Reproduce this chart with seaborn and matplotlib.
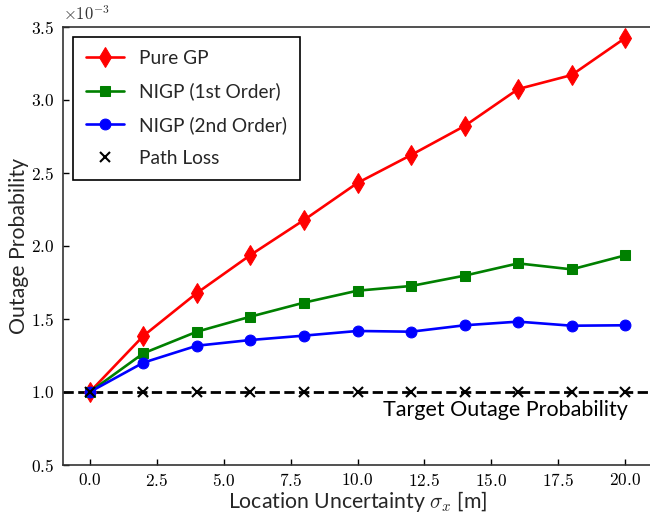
import numpy as np
import pandas as pd
import matplotlib
matplotlib.use("Agg")
import matplotlib.pyplot as plt
import matplotlib.ticker as mticker
import seaborn as sns

# ---- data (outage probability) ----
sigma_x = [0, 2, 4, 6, 8, 10, 12, 14, 16, 18, 20]
pure_gp = [1.000e-3, 1.384e-3, 1.678e-3, 1.938e-3, 2.178e-3, 2.432e-3,
           2.623e-3, 2.822e-3, 3.075e-3, 3.171e-3, 3.425e-3]
nigp_1st = [1.000e-3, 1.265e-3, 1.413e-3, 1.516e-3, 1.612e-3, 1.694e-3,
            1.726e-3, 1.797e-3, 1.881e-3, 1.840e-3, 1.936e-3]
nigp_2nd = [1.000e-3, 1.201e-3, 1.317e-3, 1.356e-3, 1.386e-3, 1.418e-3,
            1.413e-3, 1.457e-3, 1.482e-3, 1.454e-3, 1.457e-3]
path_loss = [1.0e-3, 1.0e-3, 1.0e-3, 1.0e-3, 1.0e-3, 1.0e-3,
             1.0e-3, 1.0e-3, 1.0e-3, 1.0e-3, 1.0e-3]
target_outage = 1.0e-3
y_ticks = [0.5e-3, 1.0e-3, 1.5e-3, 2.0e-3, 2.5e-3, 3.0e-3, 3.5e-3]
x_ticks = [0.0, 2.5, 5.0, 7.5, 10.0, 12.5, 15.0, 17.5, 20.0]

sns.set_theme(style="white")
SANS = ["Lato", "DejaVu Sans"]
plt.rcParams["font.family"] = SANS
plt.rcParams["mathtext.fontset"] = "cm"

fig = plt.figure(figsize=(6.5, 5.19), dpi=100)
ax = fig.add_axes([63 / 650, 54 / 519, 589 / 650, 438 / 519])

lw = 1.9
sns.lineplot(x=sigma_x, y=pure_gp, ax=ax, color="red", marker="d",
             markersize=10.5, markeredgecolor="red", linewidth=lw, label="Pure GP")
sns.lineplot(x=sigma_x, y=nigp_1st, ax=ax, color="green", marker="s",
             markersize=7.5, markeredgecolor="green", linewidth=lw,
             label="NIGP (1st Order)")
sns.lineplot(x=sigma_x, y=nigp_2nd, ax=ax, color="blue", marker="o",
             markersize=7.8, markeredgecolor="blue", linewidth=lw,
             label="NIGP (2nd Order)")
sns.lineplot(x=sigma_x, y=path_loss, ax=ax, color="black", marker="x",
             markersize=7, markeredgecolor="black", markeredgewidth=1.5,
             linestyle="none", label="Path Loss")
ax.axhline(target_outage, color="black", linestyle="--", linewidth=2, zorder=1)

ax.set_xlim(-1, 21)
ax.set_ylim(0.5e-3, 3.5e-3)
ax.set_xticks(x_ticks)
ax.set_yticks(y_ticks)
ax.xaxis.set_major_formatter(mticker.FuncFormatter(lambda v, p: r"$%.1f$" % v))
ax.yaxis.set_major_formatter(mticker.FuncFormatter(lambda v, p: r"$%.1f$" % (v * 1e3)))
ax.tick_params(axis="both", which="both", direction="in", length=4, width=1,
               labelsize=12.5, colors="black", bottom=True, left=True,
               top=False, right=False, pad=6)
ax.tick_params(axis="x", pad=5)
for s in ax.spines.values():
    s.set_color("#333333")
    s.set_linewidth(1.2)

ax.text(0.0, 1.008, r"$\times10^{-3}$", transform=ax.transAxes,
        fontsize=12, ha="left", va="bottom", color="#333333")

ax.set_xlabel(r"Location Uncertainty $\sigma_x$ [m]", fontsize=15.3, labelpad=0)
ax.set_ylabel("Outage Probability", fontsize=15.3, labelpad=2)

ax.text(20.1, 0.877e-3, "Target Outage Probability", fontsize=15.5,
        ha="right", va="center", color="black")

leg = ax.legend(loc="upper left", fontsize=13.8, frameon=True, fancybox=False,
                framealpha=1, edgecolor="black", borderaxespad=0.5,
                borderpad=0.68, labelspacing=0.82, handlelength=2.0,
                handletextpad=0.8)
leg.get_frame().set_linewidth(1.2)

fig.savefig("out.png", dpi=100)
